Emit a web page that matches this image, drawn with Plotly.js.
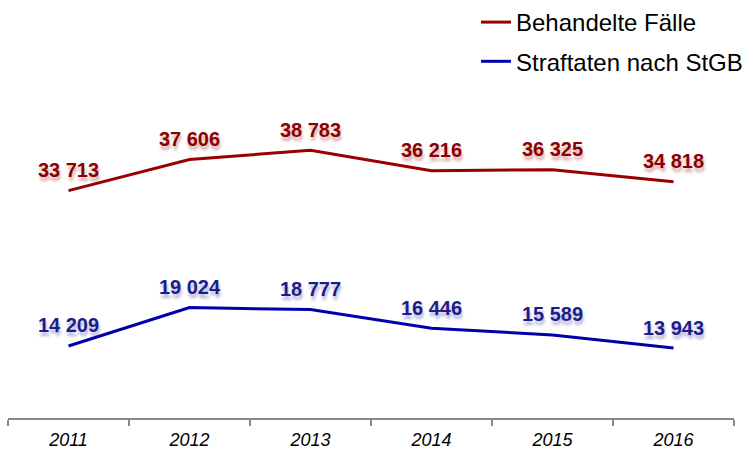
<!DOCTYPE html>
<html>
<head>
<meta charset="utf-8">
<script src="https://cdn.plot.ly/plotly-3.0.1.min.js"></script>
<style>html,body{margin:0;padding:0;background:#fff;}#chart{width:748px;height:451px;}</style>
</head>
<body>
<div id="chart"></div>
<script>
const years = ["2011", "2012", "2013", "2014", "2015", "2016"];
const behandelteFaelle = [33713, 37606, 38783, 36216, 36325, 34818];
const straftatenStGB = [14209, 19024, 18777, 16446, 15589, 13943];
const seriesNames = ["Behandelte Fälle", "Straftaten nach StGB"];

function fmt(v) { return String(v).replace(/\B(?=(\d{3})+(?!\d))/g, " "); }

const FONT = "Liberation Sans, Arial, sans-serif";

const traces = [
  {
    x: years, y: behandelteFaelle, name: seriesNames[0], type: "scatter",
    mode: "lines+markers+text", text: behandelteFaelle.map(fmt), textposition: "top center",
    line: {color: "#990000", width: 3},
    marker: {size: 12, color: "rgba(0,0,0,0)"},
    textfont: {family: FONT, size: 20, color: "#8B0000", weight: 700,
               shadow: "1px 4px 3px rgba(140,0,0,0.35)"},
    legendgroup: "a", cliponaxis: false, hoverinfo: "skip"
  },
  {
    x: years, y: straftatenStGB, name: seriesNames[1], type: "scatter",
    mode: "lines+markers+text", text: straftatenStGB.map(fmt), textposition: "top center",
    line: {color: "#0000AA", width: 3},
    marker: {size: 12, color: "rgba(0,0,0,0)"},
    textfont: {family: FONT, size: 20, color: "#1C1C8C", weight: 700,
               shadow: "1px 4px 3px rgba(30,30,140,0.35)"},
    legendgroup: "b", cliponaxis: false, hoverinfo: "skip"
  }
];

const layout = {
  width: 748, height: 451,
  margin: {l: 8, r: 14, t: 30, b: 33, autoexpand: false},
  paper_bgcolor: "#fff", plot_bgcolor: "#fff",
  showlegend: true,
  legend: {
    xref: "container", yref: "container",
    x: 1, xanchor: "right", y: 1, yanchor: "top",
    font: {family: FONT, size: 24, color: "#000"},
    traceorder: "grouped", tracegroupgap: 5,
    bgcolor: "rgba(0,0,0,0)", itemwidth: 30
  },
  xaxis: {
    type: "category", range: [-0.5, 5.5], showgrid: false, zeroline: false,
    showline: true, linecolor: "#888", linewidth: 1.5,
    ticks: "outside", tickson: "boundaries", ticklen: 6, tickcolor: "#888", tickwidth: 1.5,
    ticklabelstandoff: 5,
    tickfont: {family: FONT, size: 18, color: "#000", style: "italic"},
    fixedrange: true, automargin: false
  },
  yaxis: {visible: false, range: [5170, 53870], showgrid: false, zeroline: false, fixedrange: true, automargin: false}
};

Plotly.newPlot("chart", traces, layout, {displayModeBar: false, staticPlot: true});
</script>
</body>
</html>
